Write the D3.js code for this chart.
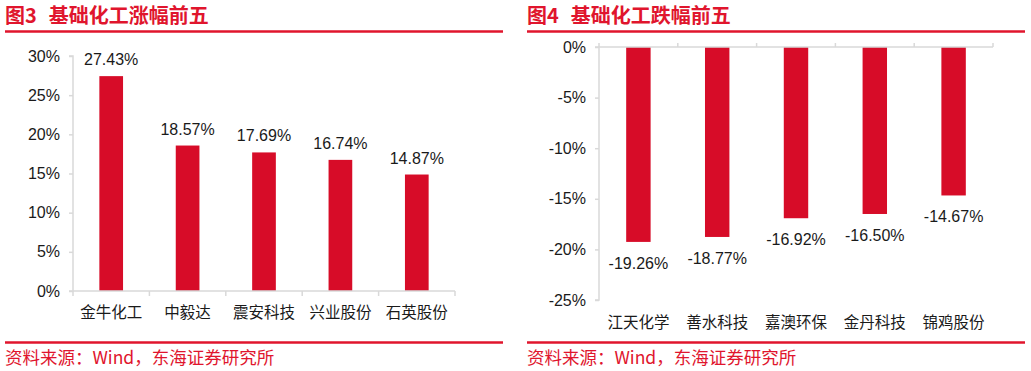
<!DOCTYPE html>
<html><head><meta charset="utf-8">
<script src="https://cdn.jsdelivr.net/npm/d3@7/dist/d3.min.js"></script>
<style>body{margin:0;background:#fff}svg{display:block}</style>
</head><body><svg id="c" width="1031" height="371"></svg>
<script>
const gainCats = ["金牛化工","中毅达","震安科技","兴业股份","石英股份"];
const gainVals = [27.43,18.57,17.69,16.74,14.87];
const gainTicks = [0,5,10,15,20,25,30];
const lossCats = ["江天化学","善水科技","嘉澳环保","金丹科技","锦鸡股份"];
const lossVals = [-19.26,-18.77,-16.92,-16.50,-14.67];
const lossTicks = [0,-5,-10,-15,-20,-25];
const titleNums = ["图3","图4"];
const titles = ["基础化工涨幅前五","基础化工跌幅前五"];
const source = "资料来源：Wind，东海证券研究所";

const RED="#e0152d", BAR="#d70c28", AX="#d9d9d9", TXT="#1a1a1a";
const FONT="'Noto Sans CJK SC', 'Liberation Sans', Arial, sans-serif";
const svg=d3.select("#c").style("font-family",FONT);

function frame(x0,x1,num,title){
  const g=svg.append("g");
  const t=g.append("text").attr("x",x0).attr("y",23).attr("fill",RED).attr("font-size",20).attr("font-weight","bold");
  t.append("tspan").text(num);
  t.append("tspan").attr("dx",12).text(title);
  g.append("line").attr("x1",x0).attr("x2",x1).attr("y1",31.5).attr("y2",31.5).attr("stroke",RED).attr("stroke-width",2.5);
  g.append("line").attr("x1",x0).attr("x2",x1).attr("y1",342.5).attr("y2",342.5).attr("stroke",RED).attr("stroke-width",2.5);
  g.append("text").attr("x",x0).attr("y",364).attr("fill",RED).attr("font-size",17.5).text(source);
}
frame(5,503,titleNums[0],titles[0]);
frame(527,1025,titleNums[1],titles[1]);

function chart(cats,vals,ticks,xr,yr,dom,neg,catY){
  const x=d3.scaleBand().domain(cats).range(xr).paddingInner(0.69).paddingOuter(0.345);
  const y=d3.scaleLinear().domain(dom).range(yr);
  const g=svg.append("g");
  const ya=g.append("g").attr("transform",`translate(${xr[0]},0)`)
    .call(d3.axisLeft(y).tickValues(ticks).tickSize(4).tickPadding(9).tickFormat(d=>d+"%"));
  ya.select(".domain").attr("stroke",AX).attr("stroke-width",1.5).attr("d",`M-4,${yr[0]}H0V${yr[1]}H-4`);
  ya.selectAll(".tick line").attr("stroke",AX).attr("stroke-width",1.5);
  ya.selectAll(".tick text").attr("fill",TXT).attr("font-size",16).attr("font-family","'Liberation Sans', Arial, sans-serif");
  g.selectAll("rect").data(vals).join("rect")
    .attr("x",(d,i)=>x(cats[i])).attr("width",x.bandwidth())
    .attr("y",d=>Math.min(y(d),y(0))).attr("height",d=>Math.abs(y(d)-y(0)))
    .attr("fill",BAR);
  const xa=g.append("g").attr("transform",`translate(0,${y(0)})`)
    .call(d3.axisBottom(x).tickSize(0).tickFormat(""));
  xa.select(".domain").attr("stroke",AX).attr("stroke-width",1.5).attr("d",`M${xr[0]},0H${xr[1]}`);
  xa.selectAll(".tick").remove();
  const bounds=d3.range(cats.length+1).map(i=>xr[0]+i*x.step());
  g.selectAll("line.tk").data(bounds).join("line").attr("class","tk")
    .attr("x1",d=>d).attr("x2",d=>d).attr("y1",y(0)).attr("y2",y(0)+(neg?-4:5))
    .attr("stroke",AX).attr("stroke-width",1.5);
  g.selectAll("text.cat").data(cats).join("text").attr("class","cat")
    .attr("x",d=>x(d)+x.bandwidth()/2).attr("y",catY).attr("text-anchor","middle")
    .attr("fill",TXT).attr("font-size",15.5).text(d=>d);
  g.selectAll("text.val").data(vals).join("text").attr("class","val")
    .attr("x",(d,i)=>x(cats[i])+x.bandwidth()/2)
    .attr("y",d=>neg? y(d)+27 : y(d)-11).attr("text-anchor","middle")
    .attr("fill",TXT).attr("font-size",16).attr("font-family","'Liberation Sans', Arial, sans-serif")
    .text(d=>d.toFixed(2)+"%");
}
chart(gainCats,gainVals,gainTicks,[73,455],[291,56],[0,30],false,318);
chart(lossCats,lossVals,lossTicks,[599,993],[47,300],[0,-25],true,328);
</script></body></html>
